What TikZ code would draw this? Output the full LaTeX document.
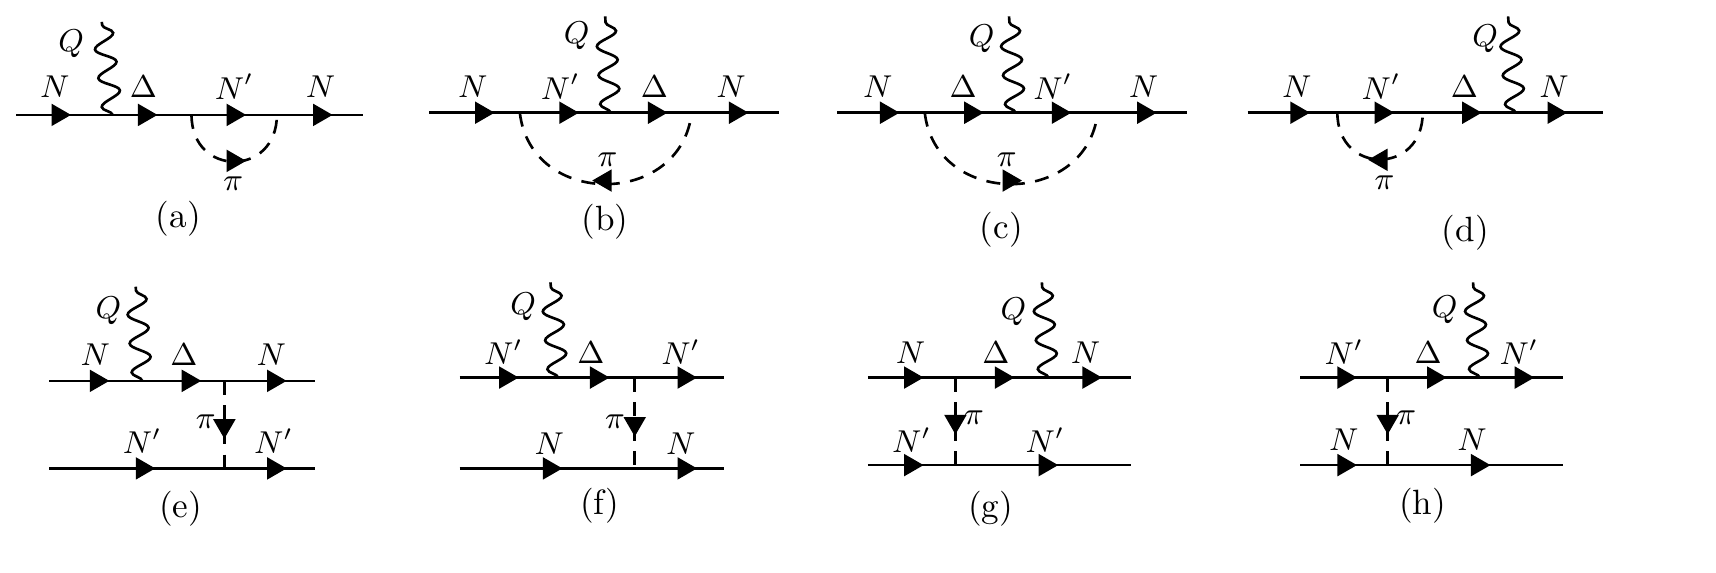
\documentclass[tikz,border=0pt]{standalone}
\usepackage{amsmath}
\usetikzlibrary{shapes.geometric,decorations.pathmorphing}

\tikzset{
  fermion/.style={line width=0.75pt},
  scalar/.style={line width=0.75pt, dash pattern=on 4pt off 3pt},
  photon/.style={line width=0.75pt, decorate, decoration={snake, segment length=0.29cm, amplitude=0.1cm}},
  tri/.style={regular polygon, regular polygon sides=3, fill=black, inner sep=0pt, minimum size=0.26cm},
  fwd/.style={tri, rotate=-90},
  bwd/.style={tri, rotate=90},
  dwn/.style={tri, rotate=180},
  lbl/.style={font=\small},
  sublbl/.style={font=\normalsize}
}

\begin{document}
\begin{tikzpicture}[x=0.01095cm, y=-0.01095cm]
    \useasboundingbox (0,0) rectangle (1568,523);

    % (a) self-energy after the Delta
    \coordinate (a1) at (15,105);  \coordinate (a2) at (332,105);
    \coordinate (aq) at (103,105); \coordinate (aqt) at (93,20);
    \coordinate (av1) at (175,105); \coordinate (av2) at (253,105);
    \draw[fermion] (a1) -- (a2);
    \draw[photon] (aq) -- (aqt);
    \draw[scalar] (av1) .. controls (175,162) and (253,162) .. (av2);
    \node[fwd] (aa1) at (53,105) {};
    \node[fwd] (aa2) at (132,105) {};
    \node[fwd] (aa3) at (213,105) {};
    \node[fwd] (aa4) at (292,105) {};
    \node[fwd] (aap) at (213,147) {};
    \node[lbl] (aQ) at (65,40) {$Q$};
    \node[lbl] (aN1) at (50,79) {$N$};
    \node[lbl] (aD) at (131,79) {$\Delta$};
    \node[lbl] (aN2) at (214,79) {$N'$};
    \node[lbl] (aN3) at (293,79) {$N$};
    \node[lbl] (api) at (213,168) {$\pi$};
    \node[sublbl] (ca) at (163,200) {(a)};

    % (b) loop around the photon vertex
    \coordinate (b1) at (392,103);  \coordinate (b2) at (712,103);
    \coordinate (bq) at (558,103);  \coordinate (bqt) at (553,15);
    \coordinate (bv1) at (475,103); \coordinate (bv2) at (632,103);
    \draw[fermion] (b1) -- (b2);
    \draw[photon] (bq) -- (bqt);
    \draw[scalar] (bv1) .. controls (485,190) and (622,190) .. (bv2);
    \node[fwd] (ba1) at (440,103) {};
    \node[fwd] (ba2) at (517,103) {};
    \node[fwd] (ba3) at (598,103) {};
    \node[fwd] (ba4) at (672,103) {};
    \node[bwd] (bap) at (553,165) {};
    \node[lbl] (bQ) at (527,33) {$Q$};
    \node[lbl] (bN1) at (432,79) {$N$};
    \node[lbl] (bN2) at (512,79) {$N'$};
    \node[lbl] (bD) at (598,79) {$\Delta$};
    \node[lbl] (bN3) at (668,79) {$N$};
    \node[lbl] (bpi) at (555,146) {$\pi$};
    \node[sublbl] (cb) at (553,203) {(b)};

    % (c) loop around the photon vertex
    \coordinate (c1) at (765,103);  \coordinate (c2) at (1085,103);
    \coordinate (cq) at (928,103);  \coordinate (cqt) at (922,15);
    \coordinate (cv1) at (845,103); \coordinate (cv2) at (1003,103);
    \draw[fermion] (c1) -- (c2);
    \draw[photon] (cq) -- (cqt);
    \draw[scalar] (cv1) .. controls (855,190) and (993,190) .. (cv2);
    \node[fwd] (ca1) at (810,103) {};
    \node[fwd] (ca2) at (887,103) {};
    \node[fwd] (ca3) at (967,103) {};
    \node[fwd] (ca4) at (1045,103) {};
    \node[fwd] (cpa) at (922,165) {};
    \node[lbl] (cQ) at (897,35) {$Q$};
    \node[lbl] (cN1) at (802,79) {$N$};
    \node[lbl] (cD) at (880,79) {$\Delta$};
    \node[lbl] (cN2) at (962,79) {$N'$};
    \node[lbl] (cN3) at (1045,79) {$N$};
    \node[lbl] (cpi) at (920,146) {$\pi$};
    \node[sublbl] (cc) at (915,210) {(c)};

    % (d) self-energy before the Delta
    \coordinate (d1) at (1140,103);  \coordinate (d2) at (1465,103);
    \coordinate (dq) at (1385,103);  \coordinate (dqt) at (1378,15);
    \coordinate (dv1) at (1222,103); \coordinate (dv2) at (1300,103);
    \draw[fermion] (d1) -- (d2);
    \draw[photon] (dq) -- (dqt);
    \draw[scalar] (dv1) .. controls (1222,160) and (1300,160) .. (dv2);
    \node[fwd] (da1) at (1185,103) {};
    \node[fwd] (da2) at (1262,103) {};
    \node[fwd] (da3) at (1342,103) {};
    \node[fwd] (da4) at (1420,103) {};
    \node[bwd] (dap) at (1262,146) {};
    \node[lbl] (dQ) at (1357,35) {$Q$};
    \node[lbl] (dN1) at (1185,79) {$N$};
    \node[lbl] (dN2) at (1262,79) {$N'$};
    \node[lbl] (dD) at (1338,79) {$\Delta$};
    \node[lbl] (dN3) at (1420,79) {$N$};
    \node[lbl] (dpi) at (1265,167) {$\pi$};
    \node[sublbl] (cd) at (1339,213) {(d)};

    % (e) pion exchange after the Delta
    \coordinate (e1) at (45,348);  \coordinate (e2) at (288,348);
    \coordinate (e3) at (45,428);  \coordinate (e4) at (288,428);
    \coordinate (eq) at (130,348); \coordinate (eqt) at (124,262);
    \coordinate (ev1) at (205,348); \coordinate (ev2) at (205,428);
    \draw[fermion] (e1) -- (e2);
    \draw[fermion] (e3) -- (e4);
    \draw[photon] (eq) -- (eqt);
    \draw[scalar] (ev1) -- (ev2);
    \node[fwd] (ea1) at (88,348) {};
    \node[fwd] (ea2) at (172,348) {};
    \node[fwd] (ea3) at (250,348) {};
    \node[fwd] (ea4) at (130,428) {};
    \node[fwd] (ea5) at (250,428) {};
    \node[dwn] (eap) at (205,389) {};
    \node[lbl] (eQ) at (99,284) {$Q$};
    \node[lbl] (eN1) at (87,324) {$N$};
    \node[lbl] (eD) at (168,324) {$\Delta$};
    \node[lbl] (eN2) at (248,324) {$N$};
    \node[lbl] (eN3) at (130,403) {$N'$};
    \node[lbl] (eN4) at (250,403) {$N'$};
    \node[lbl] (epi) at (188,385) {$\pi$};
    \node[sublbl] (ce) at (165,465) {(e)};

    % (f) pion exchange after the Delta
    \coordinate (f1) at (420,345);  \coordinate (f2) at (662,345);
    \coordinate (f3) at (420,428);  \coordinate (f4) at (662,428);
    \coordinate (fq) at (510,345);  \coordinate (fqt) at (503,258);
    \coordinate (fv1) at (580,345); \coordinate (fv2) at (580,428);
    \draw[fermion] (f1) -- (f2);
    \draw[fermion] (f3) -- (f4);
    \draw[photon] (fq) -- (fqt);
    \draw[scalar] (fv1) -- (fv2);
    \node[fwd] (fa1) at (462,345) {};
    \node[fwd] (fa2) at (545,345) {};
    \node[fwd] (fa3) at (625,345) {};
    \node[fwd] (fa4) at (502,428) {};
    \node[fwd] (fa5) at (625,428) {};
    \node[dwn] (fap) at (580,387) {};
    \node[lbl] (fQ) at (478,280) {$Q$};
    \node[lbl] (fN1) at (460,322) {$N'$};
    \node[lbl] (fD) at (540,322) {$\Delta$};
    \node[lbl] (fN2) at (622,322) {$N'$};
    \node[lbl] (fN3) at (502,405) {$N$};
    \node[lbl] (fN4) at (622,405) {$N$};
    \node[lbl] (fpi) at (562,385) {$\pi$};
    \node[sublbl] (cf) at (548,462) {(f)};

    % (g) pion exchange before the Delta
    \coordinate (g1) at (793,345);  \coordinate (g2) at (1033,345);
    \coordinate (g3) at (793,425);  \coordinate (g4) at (1033,425);
    \coordinate (gq) at (958,345);  \coordinate (gqt) at (952,258);
    \coordinate (gv1) at (873,345); \coordinate (gv2) at (873,425);
    \draw[fermion] (g1) -- (g2);
    \draw[fermion] (g3) -- (g4);
    \draw[photon] (gq) -- (gqt);
    \draw[scalar] (gv1) -- (gv2);
    \node[fwd] (ga1) at (832,345) {};
    \node[fwd] (ga2) at (915,345) {};
    \node[fwd] (ga3) at (995,345) {};
    \node[fwd] (ga4) at (832,425) {};
    \node[fwd] (ga5) at (955,425) {};
    \node[dwn] (gap) at (873,385) {};
    \node[lbl] (gQ) at (926,285) {$Q$};
    \node[lbl] (gN1) at (832,322) {$N$};
    \node[lbl] (gD) at (910,322) {$\Delta$};
    \node[lbl] (gN2) at (992,322) {$N$};
    \node[lbl] (gN3) at (833,402) {$N'$};
    \node[lbl] (gN4) at (955,402) {$N'$};
    \node[lbl] (gpi) at (890,382) {$\pi$};
    \node[sublbl] (cg) at (905,465) {(g)};

    % (h) pion exchange before the Delta
    \coordinate (h1) at (1188,345);  \coordinate (h2) at (1428,345);
    \coordinate (h3) at (1188,425);  \coordinate (h4) at (1428,425);
    \coordinate (hq) at (1352,345);  \coordinate (hqt) at (1346,258);
    \coordinate (hv1) at (1268,345); \coordinate (hv2) at (1268,425);
    \draw[fermion] (h1) -- (h2);
    \draw[fermion] (h3) -- (h4);
    \draw[photon] (hq) -- (hqt);
    \draw[scalar] (hv1) -- (hv2);
    \node[fwd] (ha1) at (1228,345) {};
    \node[fwd] (ha2) at (1310,345) {};
    \node[fwd] (ha3) at (1390,345) {};
    \node[fwd] (ha4) at (1228,425) {};
    \node[fwd] (ha5) at (1350,425) {};
    \node[dwn] (hap) at (1268,385) {};
    \node[lbl] (hQ) at (1320,283) {$Q$};
    \node[lbl] (hN1) at (1228,322) {$N'$};
    \node[lbl] (hD) at (1305,322) {$\Delta$};
    \node[lbl] (hN2) at (1388,322) {$N'$};
    \node[lbl] (hN3) at (1228,402) {$N$};
    \node[lbl] (hN4) at (1345,402) {$N$};
    \node[lbl] (hpi) at (1285,382) {$\pi$};
    \node[sublbl] (ch) at (1300,462) {(h)};
\end{tikzpicture}
\end{document}
